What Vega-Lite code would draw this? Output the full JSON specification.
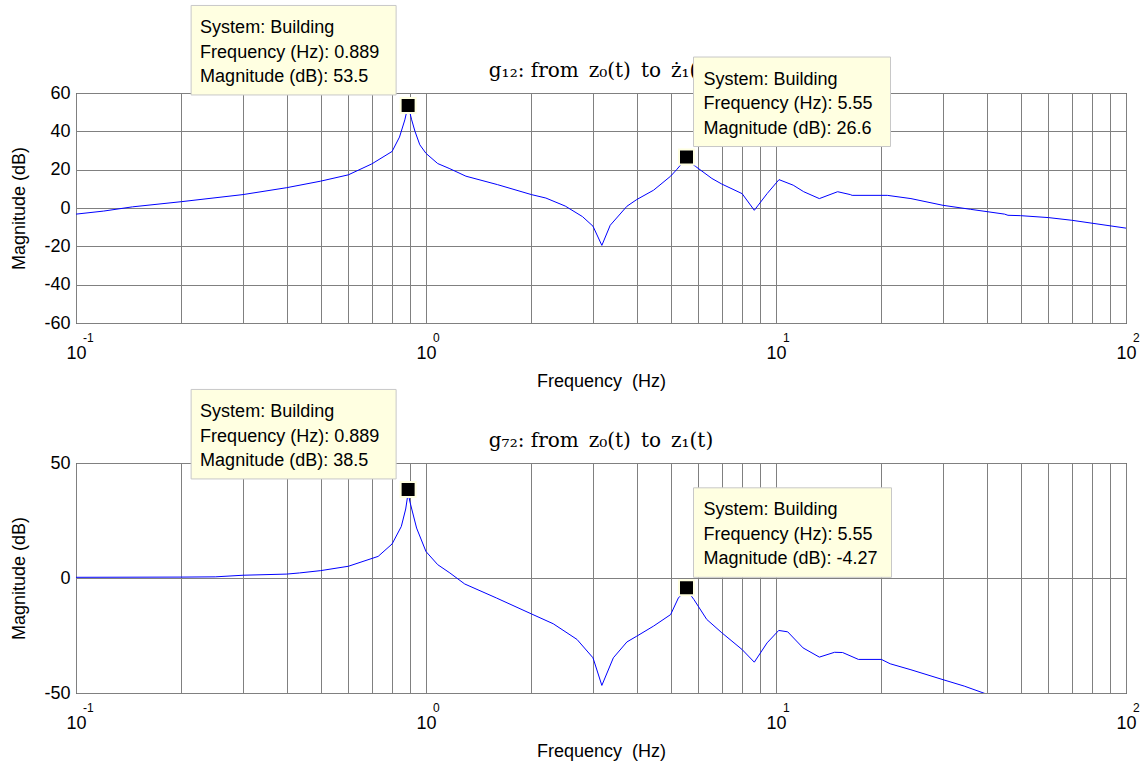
{
  "$schema": "https://vega.github.io/schema/vega-lite/v6.json",
  "background": "white",
  "padding": {"left": 10, "top": 4, "right": 5, "bottom": 5},
  "spacing": 140,
  "bounds": "flush",
  "config": {
    "view": {"stroke": "#000000", "strokeWidth": 1},
    "font": "Liberation Sans",
    "axis": {
      "grid": true, "gridColor": "#808080", "gridOpacity": 1, "gridWidth": 1,
      "domain": false, "ticks": false, "tickCount": 100,
      "labelFont": "Liberation Sans", "labelFontSize": 18, "labelColor": "#000000",
      "titleFont": "Liberation Sans", "titleFontSize": 18, "titleFontWeight": "normal", "titleColor": "#000000",
      "labelFlush": false, "labelOverlap": false
    }
  },
  "datasets": {
    "g12": [
      {"f": 0.1, "db": -3.2}, {"f": 0.12, "db": -1.6}, {"f": 0.145, "db": 0.6}, {"f": 0.2, "db": 3.3},
      {"f": 0.3, "db": 7.0}, {"f": 0.4, "db": 10.6}, {"f": 0.5, "db": 14.0}, {"f": 0.6, "db": 17.3},
      {"f": 0.7, "db": 23.0}, {"f": 0.8, "db": 29.5}, {"f": 0.84, "db": 37.0}, {"f": 0.87, "db": 46.0},
      {"f": 0.889, "db": 53.5}, {"f": 0.91, "db": 46.0}, {"f": 0.93, "db": 40.0}, {"f": 0.96, "db": 33.0},
      {"f": 1.0, "db": 28.5}, {"f": 1.08, "db": 23.2}, {"f": 1.17, "db": 20.5}, {"f": 1.3, "db": 16.6},
      {"f": 1.6, "db": 12.2}, {"f": 2.0, "db": 7.0}, {"f": 2.2, "db": 5.2}, {"f": 2.5, "db": 1.0},
      {"f": 2.8, "db": -4.5}, {"f": 3.0, "db": -9.5}, {"f": 3.18, "db": -19.5}, {"f": 3.36, "db": -9.0},
      {"f": 3.75, "db": 0.9}, {"f": 4.0, "db": 4.4}, {"f": 4.47, "db": 9.3}, {"f": 5.0, "db": 16.6},
      {"f": 5.2, "db": 20.0}, {"f": 5.4, "db": 23.5}, {"f": 5.55, "db": 25.0}, {"f": 5.7, "db": 23.5},
      {"f": 5.88, "db": 21.8}, {"f": 6.56, "db": 15.4}, {"f": 7.0, "db": 12.5}, {"f": 8.0, "db": 7.5},
      {"f": 8.67, "db": -1.2}, {"f": 9.43, "db": 7.5}, {"f": 10.2, "db": 14.8}, {"f": 11.2, "db": 11.9},
      {"f": 12.0, "db": 8.5}, {"f": 13.3, "db": 4.9}, {"f": 15.0, "db": 8.5}, {"f": 16.3, "db": 7.0},
      {"f": 16.5, "db": 6.6}, {"f": 20.8, "db": 6.6}, {"f": 24.3, "db": 4.9}, {"f": 30.0, "db": 1.4},
      {"f": 36.0, "db": -0.7}, {"f": 45.0, "db": -3.2}, {"f": 46.0, "db": -3.8}, {"f": 50.0, "db": -4.0},
      {"f": 60.0, "db": -5.0}, {"f": 70.0, "db": -6.4}, {"f": 100.0, "db": -10.5}
    ],
    "g72": [
      {"f": 0.1, "db": 0.3}, {"f": 0.2, "db": 0.4}, {"f": 0.25, "db": 0.5}, {"f": 0.3, "db": 1.2},
      {"f": 0.4, "db": 1.7}, {"f": 0.435, "db": 2.2}, {"f": 0.5, "db": 3.2}, {"f": 0.6, "db": 5.1},
      {"f": 0.73, "db": 9.4}, {"f": 0.8, "db": 14.8}, {"f": 0.85, "db": 22.4}, {"f": 0.875, "db": 30.0},
      {"f": 0.889, "db": 37.0}, {"f": 0.9, "db": 33.0}, {"f": 0.94, "db": 21.7}, {"f": 1.0, "db": 11.5},
      {"f": 1.08, "db": 5.8}, {"f": 1.17, "db": 2.2}, {"f": 1.29, "db": -2.6}, {"f": 1.59, "db": -8.7},
      {"f": 2.0, "db": -15.6}, {"f": 2.31, "db": -19.9}, {"f": 2.7, "db": -26.7}, {"f": 3.0, "db": -34.7},
      {"f": 3.18, "db": -46.7}, {"f": 3.43, "db": -34.7}, {"f": 3.75, "db": -27.8}, {"f": 4.0, "db": -25.3},
      {"f": 4.47, "db": -20.9}, {"f": 5.0, "db": -15.9}, {"f": 5.26, "db": -8.7}, {"f": 5.55, "db": -5.0},
      {"f": 5.83, "db": -9.4}, {"f": 6.34, "db": -18.0}, {"f": 7.0, "db": -23.8}, {"f": 8.0, "db": -31.1},
      {"f": 8.67, "db": -36.6}, {"f": 9.43, "db": -28.2}, {"f": 10.18, "db": -22.8}, {"f": 10.8, "db": -23.4},
      {"f": 11.95, "db": -30.4}, {"f": 13.3, "db": -34.4}, {"f": 14.7, "db": -32.3}, {"f": 15.5, "db": -32.4},
      {"f": 17.2, "db": -35.4}, {"f": 20.0, "db": -35.4}, {"f": 21.2, "db": -37.3}, {"f": 24.3, "db": -39.9},
      {"f": 30.0, "db": -44.2}, {"f": 34.5, "db": -47.0}, {"f": 40.0, "db": -50.5}, {"f": 50.0, "db": -54.0},
      {"f": 100.0, "db": -64.0}
    ],
    "tips12": [
      {"f": 0.889, "db": 53.5, "side": "left", "label": "System: Building\nFrequency (Hz): 0.889\nMagnitude (dB): 53.5"},
      {"f": 5.55, "db": 26.6, "side": "right", "label": "System: Building\nFrequency (Hz): 5.55\nMagnitude (dB): 26.6"}
    ],
    "tips72": [
      {"f": 0.889, "db": 38.5, "side": "left", "label": "System: Building\nFrequency (Hz): 0.889\nMagnitude (dB): 38.5"},
      {"f": 5.55, "db": -4.27, "side": "right", "label": "System: Building\nFrequency (Hz): 5.55\nMagnitude (dB): -4.27"}
    ],
    "exps": [
      {"f": 0.1, "e": "-1"}, {"f": 1, "e": "0"}, {"f": 10, "e": "1"}, {"f": 100, "e": "2"}
    ]
  },
  "vconcat": [
    {
      "width": 1050, "height": 230,
      "layer": [
        {
          "data": {"name": "g12"},
          "mark": {"type": "line", "color": "#0000FF", "strokeWidth": 1, "clip": true},
          "encoding": {
            "x": {"field": "f", "type": "quantitative",
              "scale": {"type": "log", "domain": [0.1, 100], "nice": false},
              "axis": {"values": [0.1,0.2,0.3,0.4,0.5,0.6,0.7,0.8,0.9,1,2,3,4,5,6,7,8,9,10,20,30,40,50,60,70,80,90,100],
                "labelExpr": "datum.value == 0.1 || datum.value == 1 || datum.value == 10 || datum.value == 100 ? '10' : ''",
                "title": "Frequency \u00a0(Hz)", "labelPadding": 21, "titlePadding": 10, "labelDx": -5, "labelOverlap": false, "tickCount": 100}},
            "y": {"field": "db", "type": "quantitative",
              "scale": {"domain": [-60, 60], "nice": false, "zero": false},
              "axis": {"values": [-60,-40,-20,0,20,40,60], "tickCount": 50, "title": "Magnitude (dB)", "labelPadding": 6, "titlePadding": 15, "labelOverlap": false,
                "labelExpr": "datum.value < 0 ? '-' + abs(datum.value) : '' + datum.value"}}
          }
        },
        {
          "data": {"values": [{"f": 3.1623, "db": 60, "t": "g₁₂: from\u2002z₀(t)\u2002to\u2002ż₁(t)"}]},
          "mark": {"type": "text", "align": "center", "baseline": "alphabetic", "dy": -16.5, "font": "DejaVu Serif", "fontSize": 20, "color": "#000000"},
          "encoding": {"x": {"field": "f", "type": "quantitative"}, "y": {"field": "db", "type": "quantitative"}, "text": {"field": "t"}}
        },
        {
          "data": {"name": "exps"},
          "mark": {"type": "text", "align": "left", "baseline": "alphabetic", "dx": 7, "dy": 18.5, "fontSize": 12, "font": "Liberation Sans", "color": "#000000"},
          "encoding": {"x": {"field": "f", "type": "quantitative"}, "y": {"datum": -60}, "text": {"field": "e"}}
        },
        {
          "data": {"name": "tips12"},
          "mark": {"type": "point", "shape": "square", "size": 225, "filled": true, "fill": "#000000", "stroke": "#FFFFE1", "strokeWidth": 2, "opacity": 1},
          "encoding": {"x": {"field": "f", "type": "quantitative"}, "y": {"field": "db", "type": "quantitative"}}
        },
        {
          "data": {"name": "tips12"},
          "transform": [{"filter": "datum.side == 'left'"}],
          "mark": {"type": "rect", "fill": "#FFFFE1", "stroke": "#C8C8C8", "strokeWidth": 1, "xOffset": -217, "x2Offset": -12, "yOffset": -100, "y2Offset": -10.5},
          "encoding": {"x": {"field": "f", "type": "quantitative"}, "x2": {"field": "f"}, "y": {"field": "db", "type": "quantitative"}, "y2": {"field": "db"}}
        },
        {
          "data": {"name": "tips12"},
          "transform": [{"filter": "datum.side == 'right'"}],
          "mark": {"type": "rect", "fill": "#FFFFE1", "stroke": "#C8C8C8", "strokeWidth": 1, "xOffset": 7, "x2Offset": 204, "yOffset": -100, "y2Offset": -10.5},
          "encoding": {"x": {"field": "f", "type": "quantitative"}, "x2": {"field": "f"}, "y": {"field": "db", "type": "quantitative"}, "y2": {"field": "db"}}
        },
        {
          "data": {"name": "tips12"},
          "transform": [{"filter": "datum.side == 'left'"}],
          "mark": {"type": "text", "align": "left", "baseline": "alphabetic", "lineBreak": "\n", "lineHeight": 24.5, "dx": -208, "dy": -72.4, "fontSize": 18, "font": "Liberation Sans", "color": "#000000"},
          "encoding": {"x": {"field": "f", "type": "quantitative"}, "y": {"field": "db", "type": "quantitative"}, "text": {"field": "label"}}
        },
        {
          "data": {"name": "tips12"},
          "transform": [{"filter": "datum.side == 'right'"}],
          "mark": {"type": "text", "align": "left", "baseline": "alphabetic", "lineBreak": "\n", "lineHeight": 24.5, "dx": 17, "dy": -72.4, "fontSize": 18, "font": "Liberation Sans", "color": "#000000"},
          "encoding": {"x": {"field": "f", "type": "quantitative"}, "y": {"field": "db", "type": "quantitative"}, "text": {"field": "label"}}
        }
      ]
    },
    {
      "width": 1050, "height": 230,
      "layer": [
        {
          "data": {"name": "g72"},
          "mark": {"type": "line", "color": "#0000FF", "strokeWidth": 1, "clip": true},
          "encoding": {
            "x": {"field": "f", "type": "quantitative",
              "scale": {"type": "log", "domain": [0.1, 100], "nice": false},
              "axis": {"values": [0.1,0.2,0.3,0.4,0.5,0.6,0.7,0.8,0.9,1,2,3,4,5,6,7,8,9,10,20,30,40,50,60,70,80,90,100],
                "labelExpr": "datum.value == 0.1 || datum.value == 1 || datum.value == 10 || datum.value == 100 ? '10' : ''",
                "title": "Frequency \u00a0(Hz)", "labelPadding": 21, "titlePadding": 10, "labelDx": -5, "labelOverlap": false, "tickCount": 100}},
            "y": {"field": "db", "type": "quantitative",
              "scale": {"domain": [-50, 50], "nice": false, "zero": false},
              "axis": {"values": [-50, 0, 50], "tickCount": 50, "title": "Magnitude (dB)", "labelPadding": 6, "titlePadding": 15, "labelOverlap": false,
                "labelExpr": "datum.value < 0 ? '-' + abs(datum.value) : '' + datum.value"}}
          }
        },
        {
          "data": {"values": [{"f": 3.1623, "db": 50, "t": "g₇₂: from\u2002z₀(t)\u2002to\u2002z₁(t)"}]},
          "mark": {"type": "text", "align": "center", "baseline": "alphabetic", "dy": -16.5, "font": "DejaVu Serif", "fontSize": 20, "color": "#000000"},
          "encoding": {"x": {"field": "f", "type": "quantitative"}, "y": {"field": "db", "type": "quantitative"}, "text": {"field": "t"}}
        },
        {
          "data": {"name": "exps"},
          "mark": {"type": "text", "align": "left", "baseline": "alphabetic", "dx": 7, "dy": 18.5, "fontSize": 12, "font": "Liberation Sans", "color": "#000000"},
          "encoding": {"x": {"field": "f", "type": "quantitative"}, "y": {"datum": -50}, "text": {"field": "e"}}
        },
        {
          "data": {"name": "tips72"},
          "mark": {"type": "point", "shape": "square", "size": 225, "filled": true, "fill": "#000000", "stroke": "#FFFFE1", "strokeWidth": 2, "opacity": 1},
          "encoding": {"x": {"field": "f", "type": "quantitative"}, "y": {"field": "db", "type": "quantitative"}}
        },
        {
          "data": {"name": "tips72"},
          "transform": [{"filter": "datum.side == 'left'"}],
          "mark": {"type": "rect", "fill": "#FFFFE1", "stroke": "#C8C8C8", "strokeWidth": 1, "xOffset": -217, "x2Offset": -12, "yOffset": -100, "y2Offset": -10.5},
          "encoding": {"x": {"field": "f", "type": "quantitative"}, "x2": {"field": "f"}, "y": {"field": "db", "type": "quantitative"}, "y2": {"field": "db"}}
        },
        {
          "data": {"name": "tips72"},
          "transform": [{"filter": "datum.side == 'right'"}],
          "mark": {"type": "rect", "fill": "#FFFFE1", "stroke": "#C8C8C8", "strokeWidth": 1, "xOffset": 7, "x2Offset": 205, "yOffset": -100, "y2Offset": -10.5},
          "encoding": {"x": {"field": "f", "type": "quantitative"}, "x2": {"field": "f"}, "y": {"field": "db", "type": "quantitative"}, "y2": {"field": "db"}}
        },
        {
          "data": {"name": "tips72"},
          "transform": [{"filter": "datum.side == 'left'"}],
          "mark": {"type": "text", "align": "left", "baseline": "alphabetic", "lineBreak": "\n", "lineHeight": 24.5, "dx": -208, "dy": -72.4, "fontSize": 18, "font": "Liberation Sans", "color": "#000000"},
          "encoding": {"x": {"field": "f", "type": "quantitative"}, "y": {"field": "db", "type": "quantitative"}, "text": {"field": "label"}}
        },
        {
          "data": {"name": "tips72"},
          "transform": [{"filter": "datum.side == 'right'"}],
          "mark": {"type": "text", "align": "left", "baseline": "alphabetic", "lineBreak": "\n", "lineHeight": 24.5, "dx": 17, "dy": -72.4, "fontSize": 18, "font": "Liberation Sans", "color": "#000000"},
          "encoding": {"x": {"field": "f", "type": "quantitative"}, "y": {"field": "db", "type": "quantitative"}, "text": {"field": "label"}}
        }
      ]
    }
  ]
}
